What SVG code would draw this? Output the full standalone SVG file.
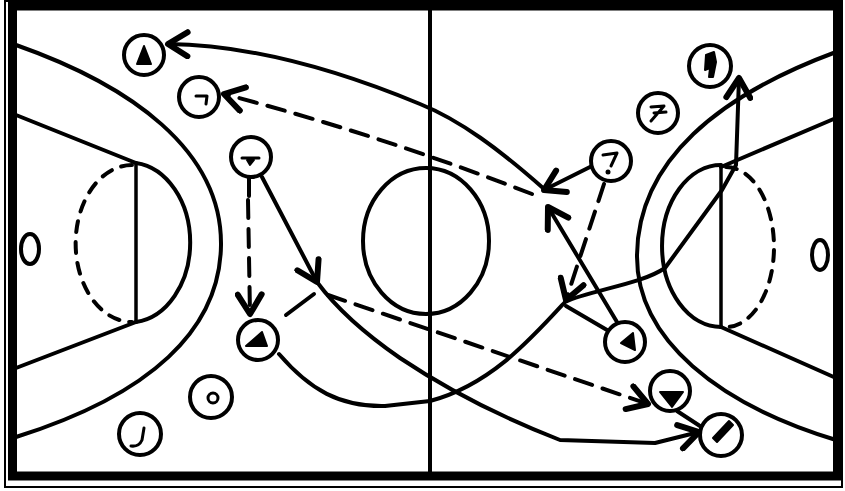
<svg xmlns="http://www.w3.org/2000/svg" width="845" height="491" viewBox="0 0 845 491">
<style>
.ln{fill:none;stroke:#000;stroke-width:4;stroke-linecap:round;stroke-linejoin:round}
.dash{stroke-dasharray:18 11}
.dashc{stroke-dasharray:11 10}
.pl{fill:#fff;stroke:#000;stroke-width:4}
.mk{fill:#000;stroke:#000;stroke-width:2;stroke-linejoin:round}
.mks{fill:none;stroke:#000;stroke-width:3;stroke-linecap:round;stroke-linejoin:round}
</style>
<defs>
<marker id="ah" markerUnits="userSpaceOnUse" markerWidth="30" markerHeight="30" viewBox="-16 -10 20 20" refX="0" refY="0" orient="auto">
<path d="M-13,-8 L0,0 L-13,8" fill="none" stroke="#000" stroke-width="4" stroke-linecap="round" stroke-linejoin="round"/>
</marker>
</defs>
<rect x="0" y="0" width="845" height="491" fill="#fff"/>
<g id="court">
<rect x="5" y="1" width="837" height="486" fill="none" stroke="#000" stroke-width="2"/>
<rect x="12.5" y="6" width="825" height="470" fill="none" stroke="#000" stroke-width="9"/>
<line class="ln" x1="430" y1="8" x2="430" y2="474"/>
<ellipse class="ln" cx="426" cy="241" rx="63" ry="73"/>
<path class="ln" d="M16,45 C130,85 222,150 221,245 C220,330 150,395 16,437"/>
<path class="ln" d="M16,115 L136,163 M16,368 L136,322"/>
<line class="ln" x1="136" y1="163" x2="136" y2="322" style="stroke-width:3.5"/>
<path class="ln" d="M136,163 A61,80 0 0 1 136,322"/>
<path class="ln dashc" d="M132,165 A56,78 0 0 0 132,322"/>
<ellipse class="ln" cx="30" cy="249" rx="9" ry="15"/>
<path class="ln" d="M836,52 C720,95 638,160 637,255 C636,340 720,405 836,440"/>
<path class="ln" d="M721,167 L836,118 M721,327 L836,378"/>
<line class="ln" x1="721" y1="165" x2="721" y2="327" style="stroke-width:3.5"/>
<path class="ln" d="M721,165 A59,81 0 0 0 721,327"/>
<path class="ln dashc" d="M726,167 A48,80 0 0 1 726,327"/>
<ellipse class="ln" cx="820" cy="255" rx="8" ry="15"/>
</g>
<g id="connectors">
<path class="ln" d="M543,188 C500,150 460,120 420,104 C350,75 260,45 168,44" marker-end="url(#ah)"/>
<path class="ln" d="M592,166 L544,190" marker-end="url(#ah)"/>
<path class="ln dash" d="M532,194 Q380,135 224,94" marker-end="url(#ah)"/>
<path class="ln" d="M249,178 L249,196"/>
<path class="ln dash" d="M248,200 L250,314" marker-end="url(#ah)"/>
<path class="ln" d="M262,177 L317,282" marker-end="url(#ah)"/>
<path class="ln" d="M317,282 Q345,320 400,358 Q470,405 560,440 L655,443 L699,432" marker-end="url(#ah)"/>
<path class="ln" d="M286,315 L314,294"/>
<path class="ln dash" d="M328,295 L648,404" marker-end="url(#ah)"/>
<path class="ln" d="M279,354 C310,390 340,407 385,406 L430,401 C490,385 530,340 565,302 C590,290 640,285 665,268 L722,190 L736,165 L739,78" marker-end="url(#ah)"/>
<path class="ln" d="M617,322 L548,207" marker-end="url(#ah)"/>
<path class="ln dash" d="M604,184 L566,300" marker-end="url(#ah)"/>
<path class="ln" d="M607,330 L566,306"/>
<path class="ln" d="M677,411 L703,428"/>
</g>
<g id="p1"><circle class="pl" cx="144" cy="55" r="20"/><path class="mk" d="M137,64 L144,46 L151,64 Z"/></g>
<g id="p2"><circle class="pl" cx="199" cy="97" r="20"/><path class="mks" d="M196,96 L207,96 L206,104"/></g>
<g id="p3"><circle class="pl" cx="251" cy="157" r="20"/><path class="mks" d="M242,158 L259,158"/><path class="mk" d="M247,160 L254,160 L250,165 Z"/></g>
<g id="p4"><circle class="pl" cx="258" cy="340" r="20"/><path class="mk" d="M246,346 L262,332 L267,346 Z"/></g>
<g id="p5"><circle class="pl" cx="211" cy="397" r="21"/><circle cx="213" cy="398" r="5" fill="none" stroke="#000" stroke-width="3"/></g>
<g id="p6"><circle class="pl" cx="140" cy="434" r="21"/><path class="mks" d="M131,446 Q139,447 142,440 L144,428"/></g>
<g id="r1"><circle class="pl" cx="710" cy="66" r="21"/><path class="mk" d="M706,55 L714,52 L716,62 L713,77 L709,77 L710,68 L705,70 Z"/></g>
<g id="r2"><circle class="pl" cx="658" cy="113" r="20"/><path class="mks" d="M651,107 L664,106 L651,121 M654,113 L666,112"/></g>
<g id="r3"><circle class="pl" cx="611" cy="161" r="20"/><path class="mks" d="M603,155 L617,153 L611,166"/><circle cx="608" cy="172" r="2.5" fill="#000"/></g>
<g id="r4"><circle class="pl" cx="625" cy="342" r="20"/><path class="mk" d="M633,333 L621,343 L635,350 Z"/></g>
<g id="r5"><circle class="pl" cx="670" cy="391" r="20"/><path class="mk" d="M660,392 L683,392 L672,407 Z"/></g>
<g id="r6"><circle class="pl" cx="721" cy="435" r="21"/><path class="mk" d="M729,421 L733,425 L717,442 L713,438 Z"/></g>
</svg>
